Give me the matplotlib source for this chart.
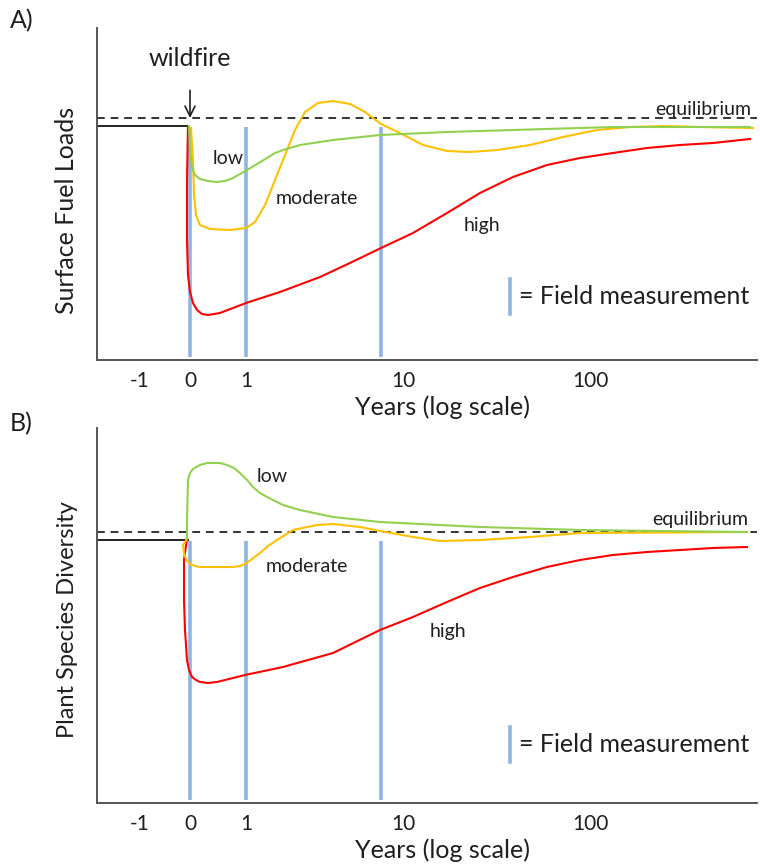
import matplotlib.pyplot as plt

plt.rcParams['font.family'] = ['Lato', 'DejaVu Sans']

# horizontal position (pseudo log time axis) and level above the x axis
tick_pos = [140, 190, 246, 403, 590]
tick_labels = ['-1', '0', '1', '10', '100']
field_x = [190, 246, 381]
fire_x = 190

# --- A) surface fuel loads ---
a_equilibrium = 242
a_baseline = 234
a_high_x = [188, 187, 187, 188, 190, 193, 197, 202, 208, 220, 246, 280, 320,
            350, 381, 413, 447, 480, 513, 547, 580, 613, 647, 680, 713, 750]
a_high_y = [234, 180, 120, 85, 68, 57, 50, 46, 45, 47, 57, 68, 83,
            97, 112, 127, 147, 167, 183, 195, 202, 207, 212, 215, 217, 221]
a_mod_x = [191, 193, 194, 196, 200, 210, 230, 246, 255, 265, 275, 285, 295,
           305, 318, 333, 350, 365, 381, 400, 423, 447, 470, 497, 530, 563,
           597, 630, 665, 700, 753]
a_mod_y = [232, 200, 165, 145, 135, 131, 130, 132, 138, 155, 180, 205, 230,
           248, 257, 259, 256, 248, 236, 227, 215, 209, 208, 210, 215, 223,
           230, 233, 234, 233, 232]
a_low_x = [189, 190, 192, 195, 200, 208, 217, 225, 233, 240, 247, 257, 267,
           275, 283, 300, 333, 380, 447, 513, 613, 750]
a_low_y = [234, 210, 192, 185, 181, 179, 178, 179, 182, 186, 190, 196, 202,
           207, 210, 215, 220, 225, 228, 230, 233, 233]

# --- B) plant species diversity ---
b_equilibrium = 271
b_baseline = 263
b_low_x = [187, 187, 188, 190, 193, 200, 207, 213, 220, 227, 234, 240, 247,
           253, 260, 267, 283, 300, 333, 380, 480, 580, 747]
b_low_y = [265, 283, 323, 330, 334, 338, 340, 340, 340, 338, 335, 330, 323,
           316, 310, 306, 298, 293, 286, 281, 276, 273, 271]
b_mod_x = [187, 183, 184, 186, 190, 195, 200, 233, 240, 245, 252, 260, 268,
           277, 293, 317, 333, 360, 380, 413, 440, 480, 530, 580, 747]
b_mod_y = [264, 258, 250, 244, 239, 237, 236, 236, 237, 239, 244, 250, 257,
           263, 273, 278, 279, 276, 272, 266, 262, 263, 266, 270, 271]
b_high_x = [187, 184, 184, 185, 187, 189, 192, 196, 200, 208, 217, 245, 283,
            333, 380, 413, 447, 480, 513, 547, 580, 613, 647, 680, 713, 747]
b_high_y = [264, 243, 203, 173, 143, 133, 126, 123, 121, 120, 121, 128, 136,
            150, 173, 186, 201, 215, 226, 236, 243, 248, 251, 253, 255, 256]

RED = '#FF0000'
YELLOW = '#FFC000'
GREEN = '#92D050'
BLUE = '#8EB4E3'
INK = '#1f1f1f'
SPINE = '#555555'

fig = plt.figure(figsize=(7.6, 8.65), dpi=100)
W, H = 760, 865


def make_axes(top, bottom, ylabel, ylabel_size, ylabel_pos):
    ax = fig.add_axes([97 / W, (H - bottom) / H, 660 / W, (bottom - top) / H])
    ax.set_xlim(97, 757)
    ax.set_ylim(0, bottom - top)
    for side in ['top', 'right']:
        ax.spines[side].set_visible(False)
    for side in ['left', 'bottom']:
        ax.spines[side].set_color(SPINE)
        ax.spines[side].set_linewidth(1.4)
    ax.set_yticks([])
    ax.set_xticks(tick_pos, tick_labels)
    ax.tick_params(axis='x', length=0, pad=8, labelsize=15, labelcolor=INK)
    ax.set_xlabel('Years (log scale)', fontsize=18, color=INK)
    ax.xaxis.set_label_coords(0.523, -35 / (bottom - top))
    ax.set_ylabel(ylabel, fontsize=ylabel_size, color=INK)
    ax.yaxis.set_label_coords(-19 / 660, ylabel_pos)
    return ax


def draw_panel(ax, eq, base, curves, legend_y, labels):
    ax.axhline(eq, color='#333333', lw=1.4, ls=(0, (4, 3)))
    ax.plot([97, fire_x - 2], [base, base], color='#222222', lw=1.4)
    for x in field_x:
        ax.plot([x, x], [base - 1, 3], color=BLUE, lw=2.6,
                solid_capstyle='butt')
    for xs, ys, c in curves:
        ax.plot(xs, ys, color=c, lw=1.5, solid_joinstyle='round')
    ax.plot([510, 510], [legend_y - 17, legend_y + 18], color=BLUE, lw=2.6)
    ax.text(519, legend_y, '= Field measurement', fontsize=18, color=INK,
            va='center', ha='left')
    for x, y, s in labels:
        ax.text(x, y, s, fontsize=14, color=INK, ha='center', va='center')


ax_a = make_axes(28, 360, 'Surface Fuel Loads', 18, 0.449)
draw_panel(ax_a, a_equilibrium, a_baseline,
           [(a_high_x, a_high_y, RED), (a_mod_x, a_mod_y, YELLOW),
            (a_low_x, a_low_y, GREEN)],
           63,
           [(228, 202, 'low'), (317, 162, 'moderate'), (482, 135, 'high'),
            (703, 251, 'equilibrium')])
ax_a.annotate('wildfire', xy=(fire_x, a_equilibrium), xytext=(fire_x, 302),
              ha='center', va='center', fontsize=18, color=INK,
              annotation_clip=False,
              arrowprops=dict(arrowstyle='->', color=INK, lw=1.2,
                              shrinkA=13, shrinkB=0))

ax_b = make_axes(428, 803, 'Plant Species Diversity', 17, 0.488)
draw_panel(ax_b, b_equilibrium, b_baseline,
           [(b_high_x, b_high_y, RED), (b_mod_x, b_mod_y, YELLOW),
            (b_low_x, b_low_y, GREEN)],
           58,
           [(272, 327, 'low'), (307, 236, 'moderate'), (448, 171, 'high'),
            (700, 283, 'equilibrium')])

fig.text(10 / W, 1 - 21 / H, 'A)', fontsize=18, color=INK, va='center')
fig.text(10 / W, 1 - 424 / H, 'B)', fontsize=18, color=INK, va='center')

fig.savefig('out.png', dpi=100)
